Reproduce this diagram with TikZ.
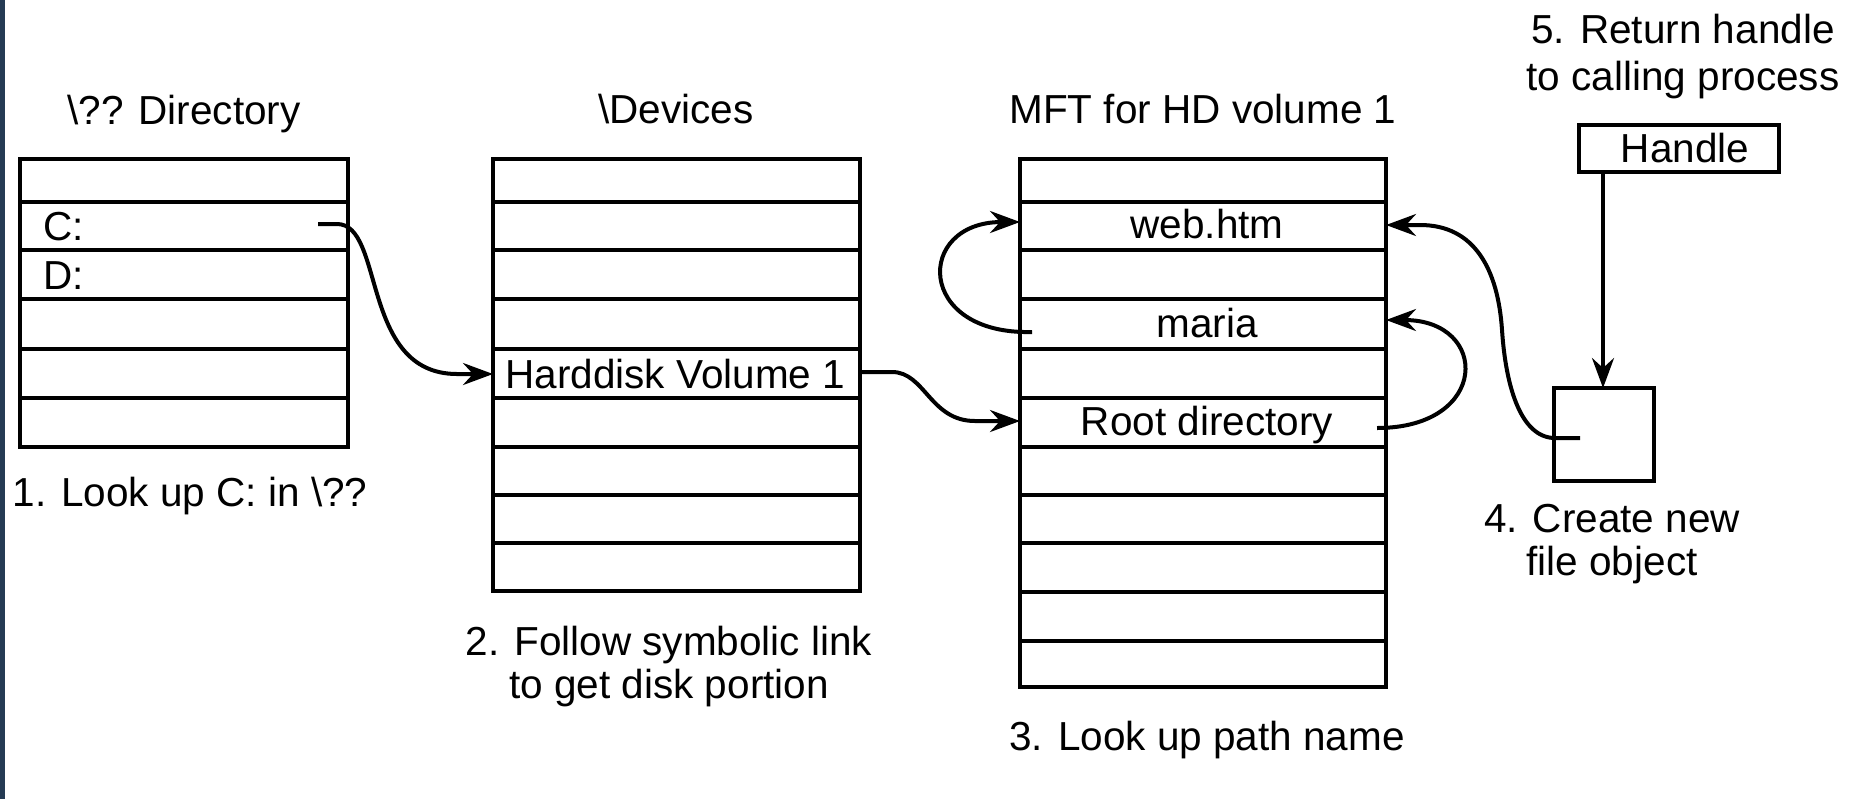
\documentclass[tikz,border=0pt]{standalone}
\usepackage{fontspec}
\setmainfont{Liberation Sans}
\usetikzlibrary{arrows.meta}
\definecolor{sidebar}{RGB}{37,59,84}
\begin{document}
\begin{tikzpicture}[x=0.5pt,y=-0.5pt,
  lbl/.style={font=\fontsize{20.25}{24}\selectfont, inner sep=0pt, anchor=base},
  tbl/.style={draw, line width=2.2pt, inner sep=0pt, outer sep=0pt, anchor=north west},
  rowline/.style={line width=2.2pt},
  link/.style={line width=2pt, line join=round, -{Stealth[length=15pt,width=11pt,inset=5pt]}},
]
\useasboundingbox (0,0) rectangle (1850,799);
\fill[sidebar] (0,0) rectangle (5,799);

% the three tables
\node[tbl, minimum width=164pt, minimum height=144pt] (dir) at (20,159) {};
\node[tbl, minimum width=183.5pt, minimum height=216pt] (dev) at (493,159) {};
\node[tbl, minimum width=183pt, minimum height=264pt] (mft) at (1020,159) {};

\foreach \y in {202,250,299,349,398}
  \draw[rowline] (dir.west |- 0,\y) -- (dir.east |- 0,\y);
\foreach \y in {202,250,299,349,398,447,495,543}
  \draw[rowline] (dev.west |- 0,\y) -- (dev.east |- 0,\y);
\foreach \y in {202,250,299,349,398,447,495,543,592,641}
  \draw[rowline] (mft.west |- 0,\y) -- (mft.east |- 0,\y);

% table titles
\node[lbl] (dirtitle) at (184,124) {\textbackslash?? Directory};
\node[lbl] (devtitle) at (676,123) {\textbackslash Devices};
\node[lbl] (mfttitle) at (1203,123) {MFT for HD volume 1};

% table entries
\node[lbl, anchor=base west] (cdrive) at (43,240) {C:};
\node[lbl, anchor=base west] (ddrive) at (43,289) {D:};
\node[lbl, anchor=base west] (hdvol) at (505,388) {Harddisk Volume 1};
\node[lbl] (webhtm) at (1207,238) {web.htm};
\node[lbl] (maria) at (1207,337) {maria};
\node[lbl] (rootdir) at (1207,435) {Root directory};

% handle and file object
\node[draw, line width=2.2pt, inner sep=0pt, minimum width=100pt, minimum height=23.5pt,
      font=\fontsize{20.25}{24}\selectfont] (handle) at (1679,148.5) {\hspace{6pt}Handle};
\node[tbl, minimum width=50pt, minimum height=46.5pt] (fobj) at (1554,388) {};

% step captions
\node[lbl] (step1) at (190,506) {1. Look up C: in \textbackslash??};
\node[lbl] (step2a) at (669,655) {2. Follow symbolic link};
\node[lbl] (step2b) at (669,698) {to get disk portion};
\node[lbl] (step3) at (1207,750) {3. Look up path name};
\node[lbl] (step4a) at (1612,532) {4. Create new};
\node[lbl] (step4b) at (1612,575) {file object};
\node[lbl] (step5a) at (1683,43) {5. Return handle};
\node[lbl] (step5b) at (1683,90) {to calling process};

% link end points
\coordinate (cfrom) at (318,224);
\coordinate (hdin) at (dev.west |- 0,374);
\coordinate (hdout) at (dev.east |- 0,372);
\coordinate (rootin) at (mft.west |- 0,421);
\coordinate (mariafrom) at (1032,332);
\coordinate (webin) at (mft.west |- 0,222);
\coordinate (rootfrom) at (1377,428);
\coordinate (mariain) at (mft.east |- 0,320);
\coordinate (fobjfrom) at (1580,438);
\coordinate (webout) at (mft.east |- 0,225);
\coordinate (hx) at (1603,0);

% links
\draw[link] (cfrom) -- ++(19,0) .. controls +(48,0) and +(-97,0) .. ([xshift=-18pt]hdin) -- (hdin);
\draw[link] (hdout) -- ++(32,0) .. controls +(33,0) and +(-45,0) .. ([xshift=-22.5pt]rootin) -- (rootin);
\draw[link] (mariafrom) .. controls (915,335) and (915,222) .. (webin);
\draw[link] (rootfrom) .. controls (1490,428) and (1490,320) .. (mariain);
\draw[link] (fobjfrom) -- (1555,438) .. controls (1522,438) and (1506,390) .. (1502,330)
            .. controls (1498,270) and (1475,225) .. (1420,225) -- (webout);
\draw[link] (handle.south -| hx) -- (fobj.north -| hx);
\end{tikzpicture}
\end{document}
